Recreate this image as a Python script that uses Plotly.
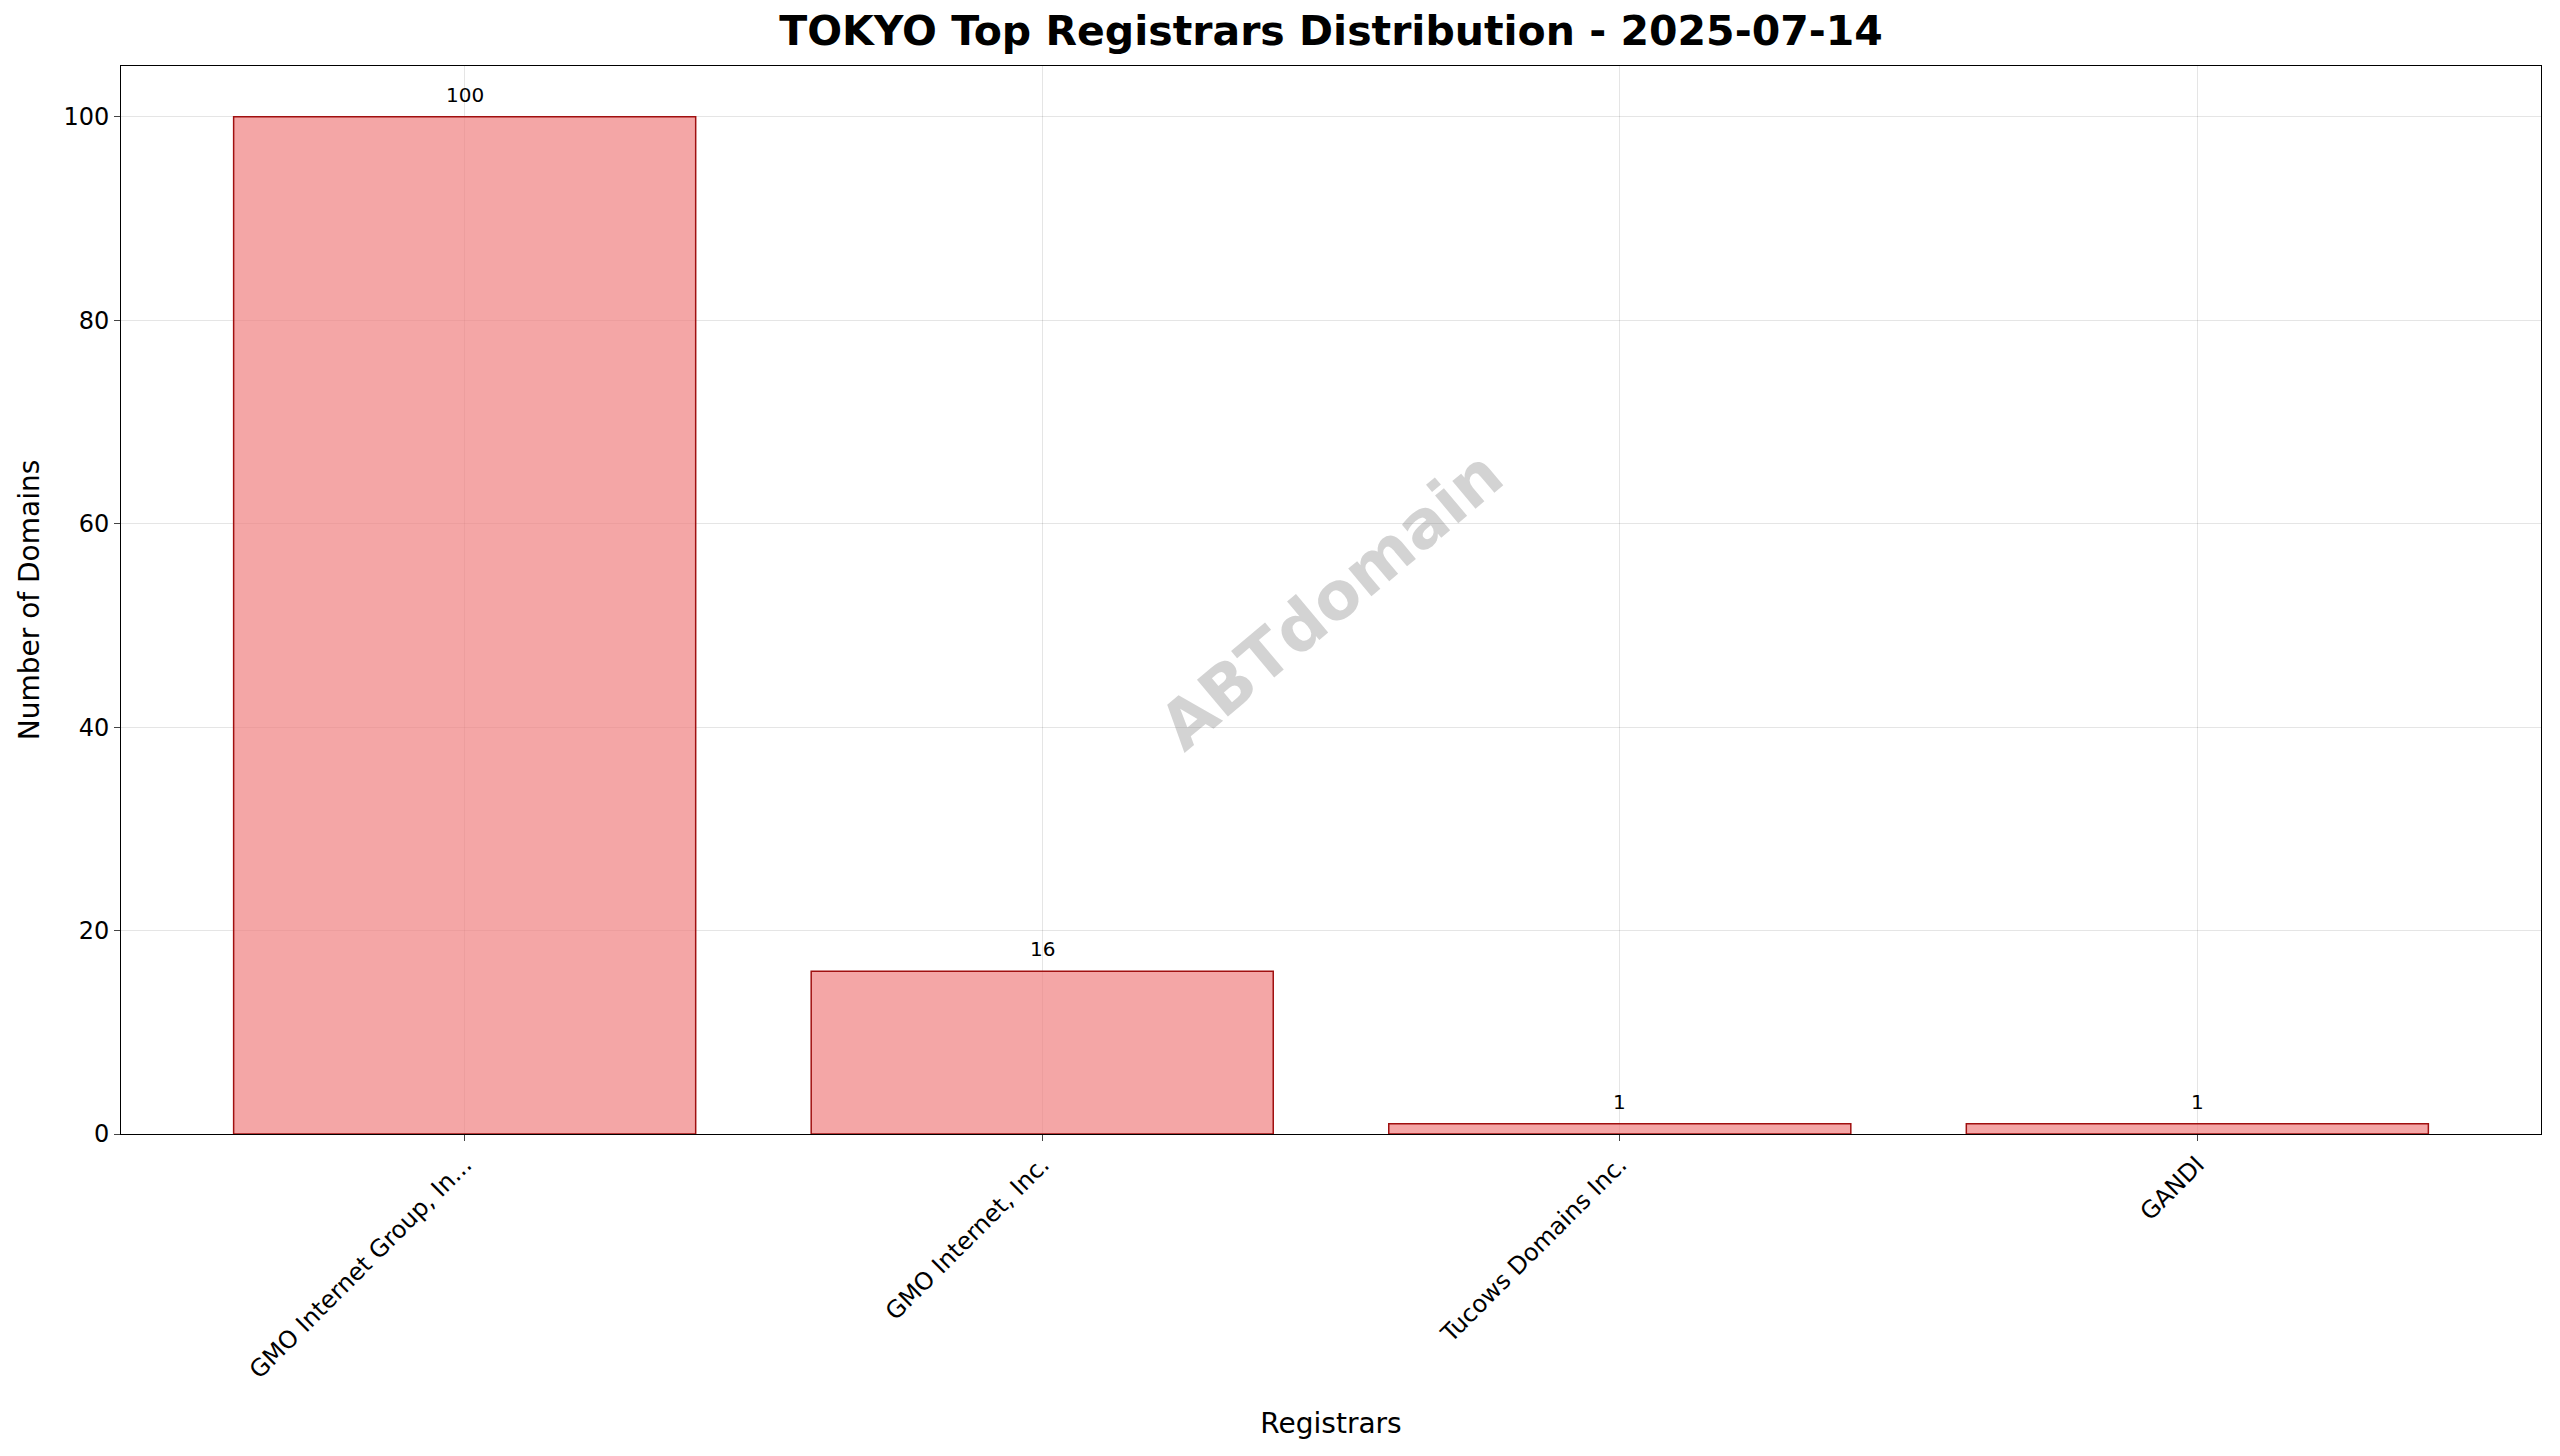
import plotly.graph_objects as go

registrars = ["GMO Internet Group, In...", "GMO Internet, Inc.", "Tucows Domains Inc.", "GANDI"]
domains = [100, 16, 1, 1]
y_ticks = [0, 20, 40, 60, 80, 100]

font = "DejaVu Sans"
fig = go.Figure()
fig.add_trace(go.Bar(
    x=list(range(len(registrars))), y=domains, width=0.8,
    marker=dict(color="rgba(240,128,128,0.7)", line=dict(color="#a01010", width=1.5)),
))
# value labels above the bars
for i, v in enumerate(domains):
    fig.add_annotation(x=i, y=v, text=str(v), showarrow=False, yanchor="bottom", yshift=8,
                       font=dict(family=font, size=20, color="black"))
fig.update_layout(
    width=2560, height=1456, plot_bgcolor="white", paper_bgcolor="white",
    margin=dict(l=113, r=27, t=58, b=330),
    font=dict(family=font, size=24, color="black"),
    title=dict(text="<b>TOKYO Top Registrars Distribution - 2025-07-14</b>",
               x=0.5, xref="paper", xanchor="center", y=0.994, yanchor="top",
               font=dict(size=41)),
    showlegend=False,
)
fig.update_xaxes(
    range=[-0.595, 3.595], tickvals=list(range(len(registrars))), ticktext=registrars,
    tickangle=-45, ticks="outside", ticklen=6, showline=True, linecolor="black", mirror=True,
    showgrid=True, gridcolor="rgba(0,0,0,0.1)", zeroline=False,
    title=dict(text="Registrars", font=dict(size=28), standoff=30),
)
fig.update_yaxes(
    range=[0, 105], tickvals=y_ticks, ticks="outside", ticklen=6,
    showline=True, linecolor="black", mirror=True,
    showgrid=True, gridcolor="rgba(0,0,0,0.1)", zeroline=False,
    title=dict(text="Number of Domains", font=dict(size=28), standoff=15),
)
fig.add_annotation(text="<b>ABTdomain</b>", x=0.5, y=0.5, xref="paper", yref="paper",
                   showarrow=False, textangle=-40,
                   font=dict(size=66, color="rgba(128,128,128,0.35)"))
fig.write_html("out.html")
